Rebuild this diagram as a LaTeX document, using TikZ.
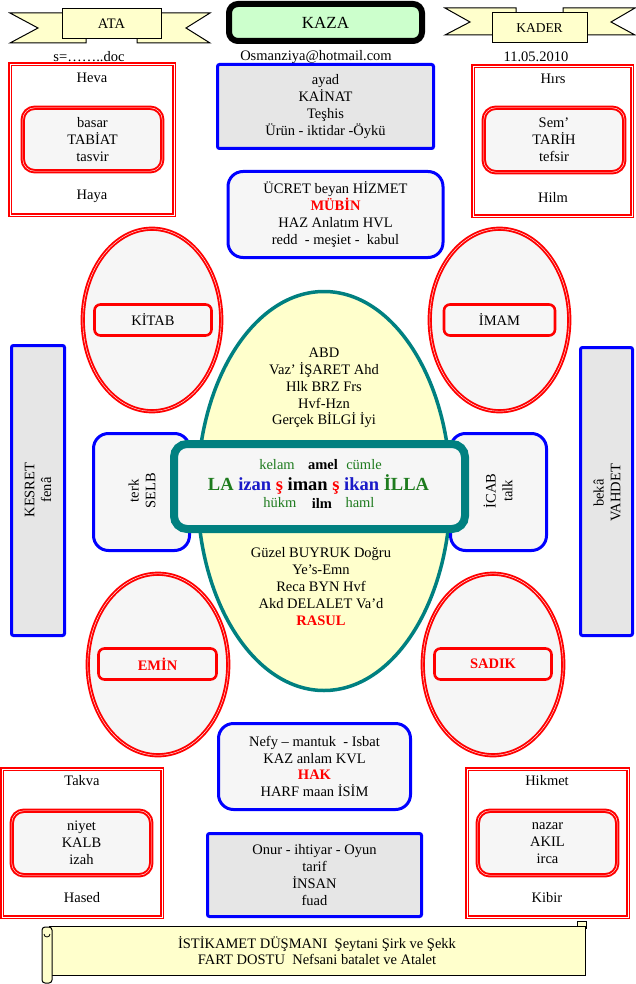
\documentclass[tikz,border=0pt]{standalone}
\usepackage{fontspec}
\setmainfont{Liberation Serif}
\usetikzlibrary{shapes.geometric}
\definecolor{boxred}{HTML}{FF0000}
\definecolor{boxblue}{HTML}{0000FF}
\definecolor{tealline}{HTML}{008080}
\definecolor{grayfill}{HTML}{E6E6E6}
\definecolor{lightfill}{HTML}{F6F6F6}
\definecolor{yellowfill}{HTML}{FFFFCC}
\definecolor{greenfill}{HTML}{CCFFCC}
\definecolor{txtgreen}{HTML}{1E7B1E}
\definecolor{txtblue}{HTML}{1A1AC8}
\begin{document}
\begin{tikzpicture}[x=1pt,y=-1pt,
  every node/.style={font=\fontsize{14.5}{16.8}\selectfont, inner sep=0pt, outer sep=0pt, align=center},
  redframe/.style={rectangle, draw=boxred, double=white, line width=2.2pt, double distance=0.5pt, fill=white},
  redinner/.style={rectangle, rounded corners=12pt, draw=boxred, double=white, line width=2pt, double distance=0.4pt, fill=lightfill},
  redoval/.style={ellipse, draw=boxred, double=white, line width=1.9pt, double distance=0.4pt, fill=lightfill},
  ovalbox/.style={rectangle, rounded corners=6pt, draw=boxred, line width=2.6pt, fill=lightfill},
  bluerect/.style={rectangle, rounded corners=2pt, draw=boxblue, line width=3pt, fill=grayfill},
  blueround/.style={rectangle, rounded corners=15pt, draw=boxblue, line width=3pt, fill=lightfill},
  ribbon/.style={draw=black, line width=1pt, fill=yellowfill},
  redtxt/.style={text=boxred, font=\fontsize{14.5}{16.8}\selectfont\bfseries}
]
\useasboundingbox (0,0) rectangle (635,984);

% ---------- top ribbons ----------
\draw[ribbon] (10,13) -- (86,13) -- (86,43) -- (10,43) -- (38,28) -- cycle;
\draw[ribbon] (210,13) -- (137,13) -- (137,43) -- (210,43) -- (186,28) -- cycle;
\node[ribbon, rectangle, minimum width=99pt, minimum height=30pt] (ata) at (111.5,24) {ATA};

\draw[ribbon] (445,8) -- (516,8) -- (516,35) -- (445,35) -- (470,22) -- cycle;
\draw[ribbon] (635,8) -- (563,8) -- (563,35) -- (635,35) -- (611,22) -- cycle;
\node[ribbon, rectangle, minimum width=95pt, minimum height=30pt, font=\fontsize{13.5}{15}\selectfont] (kader) at (539.5,28) {KADER};

\node[rectangle, rounded corners=9pt, draw=black, line width=6pt, fill=greenfill,
      minimum width=193pt, minimum height=37pt, font=\fontsize{17}{18}\selectfont] (kaza) at (325.5,22.5) {KAZA};

\node (doc) at (89,57) {s=……..doc};
\node (mail) at (316,57) {Osmanziya@hotmail.com};
\node (date) at (536,57) {11.05.2010};

% ---------- top left / right frames ----------
\node[redframe, minimum width=164pt, minimum height=151pt] (hevaframe) at (92,139.5) {};
\node (heva) at (92,78) {Heva};
\node[redinner, minimum width=139.5pt, minimum height=63.5pt] (tabiat) at (92.5,139.5) {basar\\TABİAT\\tasvir};
\node (haya) at (92,196) {Haya};

\node[redframe, minimum width=159pt, minimum height=150pt] (hirsframe) at (552.5,141) {};
\node (hirs) at (553,79) {Hırs};
\node[redinner, minimum width=140.5pt, minimum height=64.5pt] (tarih) at (554,140) {Sem’\\TARİH\\tefsir};
\node (hilm) at (553,197) {Hilm};

% ---------- top middle ----------
\node[bluerect, minimum width=216pt, minimum height=84pt] (kainat) at (325.5,106.5) {ayad\\KAİNAT\\Teşhis\\Ürün - iktidar -Öykü};
\node[blueround, minimum width=215pt, minimum height=86pt] (ucret) at (335.5,214.5)
  {ÜCRET beyan HİZMET\\\textcolor{boxred}{\bfseries MÜBİN}\\HAZ Anlatım HVL\\redd \ - meşiet - \ kabul};

% ---------- side bars ----------
\node[bluerect, minimum width=53pt, minimum height=290pt] (kesret) at (38,490.5) {};
\node[rotate=90] (kesrettxt) at (38,490) {KESRET\\fenâ};
\node[bluerect, minimum width=52pt, minimum height=288pt] (vahdet) at (606.5,491.5) {};
\node[rotate=90] (vahdettxt) at (607,493) {bekâ\\VAHDET};

% ---------- four ovals ----------
\node[redoval, minimum width=138.5pt, minimum height=182.5pt] (kitabov) at (152,320) {};
\node[ovalbox, minimum width=117pt, minimum height=31pt] (kitab) at (153,320) {KİTAB};
\node[redoval, minimum width=139.5pt, minimum height=182.5pt] (imamov) at (499.5,320) {};
\node[ovalbox, minimum width=111pt, minimum height=31pt] (imam) at (499.5,320) {İMAM};
\node[redoval, minimum width=140.5pt, minimum height=181.5pt] (eminov) at (158,664.5) {};
\node[ovalbox, minimum width=118pt, minimum height=31pt, redtxt] (emin) at (157.5,664) {EMİN};
\node[redoval, minimum width=140.5pt, minimum height=181.5pt] (sadikov) at (493,664.5) {};
\node[ovalbox, minimum width=117pt, minimum height=31pt, redtxt] (sadik) at (493,664) {SADIK};

% ---------- central ellipse ----------
\node[ellipse, draw=tealline, line width=3.5pt, fill=yellowfill, minimum width=253pt, minimum height=399pt] (big) at (324,491) {};
\node (upper) at (324,388) {ABD\\Vaz’ İŞARET Ahd\\Hlk BRZ Frs\\Hvf-Hzn\\Gerçek BİLGİ İyi};
\node (lower) at (321,586.5) {Güzel BUYRUK Doğru\\Ye’s-Emn\\Reca BYN Hvf\\Akd DELALET Va’d\\\textcolor{boxred}{\bfseries RASUL}};

% ---------- side rounded boxes ----------
\node[blueround, minimum width=96pt, minimum height=117pt] (selb) at (141.5,492) {};
\node[rotate=90] (selbtxt) at (142,491) {terk\\SELB};
\node[blueround, minimum width=96pt, minimum height=117pt] (icab) at (498.5,492) {};
\node[rotate=90] (icabtxt) at (498,491) {İCAB\\talk};

% ---------- center box ----------
\node[rectangle, rounded corners=13pt, draw=tealline, line width=8pt, fill=lightfill,
      minimum width=291pt, minimum height=85pt] (center) at (319.5,486.5) {};
\node[text=txtgreen] (kelam) at (277,465) {kelam};
\node[font=\fontsize{14.5}{16}\selectfont\bfseries] (amel) at (323,465) {amel};
\node[text=txtgreen] (cumle) at (364,465) {cümle};
\node[font=\fontsize{18.5}{20}\selectfont\bfseries] (kelime) at (318.5,484)
  {\textcolor{txtgreen}{LA} \textcolor{txtblue}{izan} \textcolor{boxred}{ş} iman \textcolor{boxred}{ş} \textcolor{txtblue}{ikan} \textcolor{txtgreen}{İLLA}};
\node[text=txtgreen] (hukm) at (280,503) {hükm};
\node[font=\fontsize{14.5}{16}\selectfont\bfseries] (ilm) at (322,503) {ilm};
\node[text=txtgreen] (haml) at (360,503) {haml};

% ---------- bottom middle ----------
\node[blueround, minimum width=192pt, minimum height=86pt] (nefy) at (314.5,766.5)
  {Nefy – mantuk \ - Isbat\\KAZ anlam KVL\\\textcolor{boxred}{\bfseries HAK}\\HARF maan İSİM};
\node[bluerect, minimum width=214pt, minimum height=83pt] (onur) at (314.5,875)
  {Onur - ihtiyar - Oyun\\tarif\\İNSAN\\fuad};

% ---------- bottom left / right frames ----------
\node[redframe, minimum width=160pt, minimum height=148pt] (takvaframe) at (82,843) {};
\node (takva) at (82,781) {Takva};
\node[redinner, minimum width=139.5pt, minimum height=64.5pt] (kalb) at (81.5,843) {niyet\\KALB\\izah};
\node (hased) at (82,898) {Hased};

\node[redframe, minimum width=161pt, minimum height=148pt] (hikmetframe) at (547.5,843) {};
\node (hikmet) at (547,781) {Hikmet};
\node[redinner, minimum width=139.5pt, minimum height=64.5pt] (akil) at (547.5,843) {nazar\\AKIL\\irca};
\node (kibir) at (547,898) {Kibir};

% ---------- scroll ----------
\draw[ribbon] (577,921) rectangle (586,928);
\node[ribbon, rectangle, minimum width=536pt, minimum height=49pt, font=\fontsize{14.5}{15.5}\selectfont] (scroll) at (317,950.5)
  {İSTİKAMET DÜŞMANI \ Şeytani Şirk ve Şekk\\FART DOSTU \ Nefsani batalet ve Atalet};
\draw[ribbon, rounded corners=3pt] (42,927) rectangle (52,983);
\draw[line width=0.8pt] (44,934) arc[start angle=180, end angle=0, radius=3];
\end{tikzpicture}
\end{document}
